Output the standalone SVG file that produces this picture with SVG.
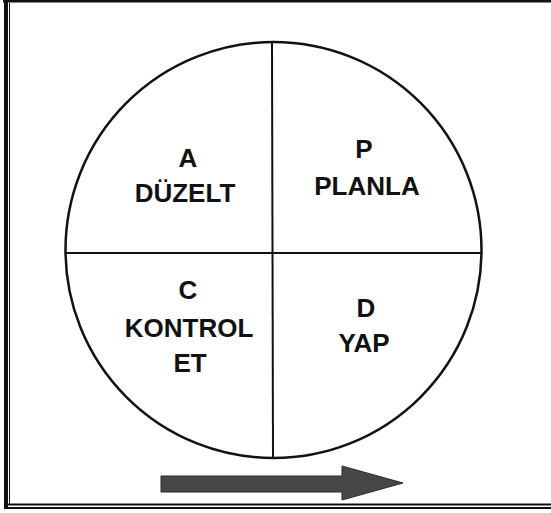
<svg xmlns="http://www.w3.org/2000/svg" width="551" height="513" viewBox="0 0 551 513">
<style>
.lbl{font-family:"Liberation Sans",Arial,sans-serif;font-weight:bold;font-size:26px;fill:#111;text-anchor:middle}
.ln{stroke:#111;fill:none}
</style>
<rect width="551" height="513" fill="#fff"/>
<g id="frame">
<line class="ln" x1="3" y1="1.2" x2="551" y2="1.2" stroke-width="2.5"/>
<line class="ln" x1="6" y1="0" x2="6" y2="509" stroke-width="4"/>
<line class="ln" x1="9.5" y1="3" x2="9.5" y2="505" stroke-width="1" stroke="#555"/>
<line class="ln" x1="4" y1="504.5" x2="551" y2="504.5" stroke-width="2"/>
<line class="ln" x1="4" y1="508" x2="551" y2="508" stroke-width="2"/>
</g>
<g id="circle">
<circle class="ln" cx="273.5" cy="250" r="208" stroke-width="2.5"/>
</g>
<g id="connectors">
<line class="ln" x1="66" y1="253" x2="481" y2="253" stroke-width="2"/>
<line class="ln" x1="272" y1="42" x2="273" y2="458" stroke-width="2"/>
</g>
<g id="node-A">
<text class="lbl" x="188" y="167">A</text>
<text class="lbl" x="185" y="202">DÜZELT</text>
</g>
<g id="node-P">
<text class="lbl" x="364" y="158">P</text>
<text class="lbl" x="367" y="195">PLANLA</text>
</g>
<g id="node-C">
<text class="lbl" x="188" y="299">C</text>
<text class="lbl" x="189" y="337">KONTROL</text>
<text class="lbl" x="190" y="372">ET</text>
</g>
<g id="node-D">
<text class="lbl" x="366" y="317">D</text>
<text class="lbl" x="364" y="352">YAP</text>
</g>
<g id="arrow">
<polygon points="161,476 342,476 342,466 403,483 342,500 342,492 161,492" fill="#474747" stroke="#2a2a2a" stroke-width="1"/>
</g>
</svg>
